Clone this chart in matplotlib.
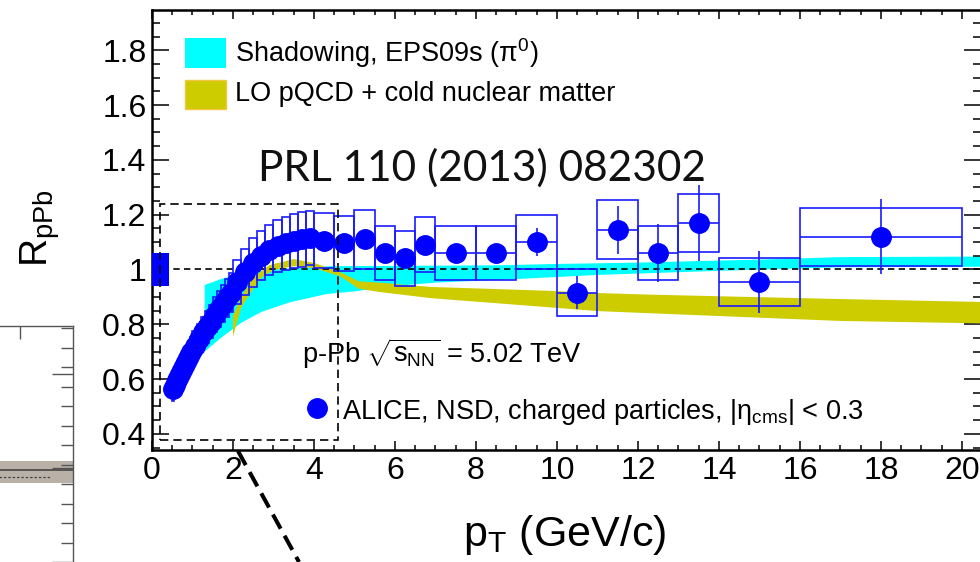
import matplotlib.pyplot as plt
from matplotlib.patches import Rectangle
from matplotlib.lines import Line2D
from matplotlib.ticker import MultipleLocator

plt.rcParams['font.family'] = ['Liberation Sans', 'DejaVu Sans']
plt.rcParams['mathtext.fontset'] = 'custom'
plt.rcParams['mathtext.rm'] = 'Liberation Sans'
plt.rcParams['mathtext.it'] = 'Liberation Sans:italic'
plt.rcParams['mathtext.bf'] = 'Liberation Sans:bold'

# ALICE R_pPb of charged particles: bin edges, values, stat and syst errors
pt_edges = [0.5, 0.55, 0.6, 0.65, 0.7, 0.75, 0.8, 0.85, 0.9, 0.95,
            1.0, 1.1, 1.2, 1.3, 1.4, 1.5, 1.6, 1.7, 1.8, 1.9,
            2.0, 2.2, 2.4, 2.6, 2.8, 3.0, 3.2, 3.4, 3.6, 3.8,
            4.0, 4.5, 5.0, 5.5, 6.0, 6.5, 7.0, 8.0, 9.0, 10.0,
            11.0, 12.0, 13.0, 14.0, 16.0, 20.0]
rppb = [0.565, 0.58, 0.595, 0.61, 0.625, 0.64, 0.655, 0.67, 0.685, 0.70,
        0.72, 0.745, 0.77, 0.79, 0.81, 0.835, 0.855, 0.875, 0.895, 0.915,
        0.955, 0.99, 1.025, 1.05, 1.07, 1.085, 1.095, 1.105, 1.11, 1.115,
        1.105, 1.095, 1.11, 1.06, 1.04, 1.09, 1.06, 1.06, 1.10, 0.915,
        1.145, 1.06, 1.17, 0.955, 1.12]
stat = [0.005, 0.005, 0.005, 0.005, 0.005, 0.005, 0.005, 0.005, 0.005, 0.005,
        0.006, 0.006, 0.006, 0.006, 0.007, 0.007, 0.007, 0.008, 0.008, 0.008,
        0.008, 0.009, 0.010, 0.010, 0.011, 0.012, 0.013, 0.014, 0.015, 0.016,
        0.012, 0.015, 0.018, 0.021, 0.025, 0.028, 0.025, 0.032, 0.05, 0.06,
        0.088, 0.107, 0.14, 0.114, 0.138]
syst = [0.045, 0.045, 0.045, 0.046, 0.047, 0.048, 0.049, 0.05, 0.051, 0.052,
        0.054, 0.056, 0.058, 0.06, 0.062, 0.064, 0.066, 0.068, 0.07, 0.072,
        0.08, 0.084, 0.088, 0.09, 0.092, 0.094, 0.096, 0.098, 0.1, 0.1,
        0.1, 0.1, 0.107, 0.1, 0.1, 0.1, 0.1, 0.1, 0.1, 0.086,
        0.108, 0.097, 0.107, 0.088, 0.106]
norm_unc = 0.06

# Shadowing, EPS09s band
eps_up_x = [1.3, 1.7, 2.2, 3.0, 4.4, 6.0, 8.5, 10.0, 12.0, 15.0, 17.0, 20.6]
eps_up_y = [0.943, 0.965, 0.985, 1.0, 1.012, 1.013, 1.015, 1.02, 1.025, 1.036, 1.045, 1.047]
eps_lo_x = [1.3, 1.7, 2.2, 2.7, 3.4, 4.3, 5.0, 6.0, 7.0, 8.6, 11.0, 14.0, 17.0, 20.6]
eps_lo_y = [0.70, 0.75, 0.805, 0.845, 0.88, 0.91, 0.92, 0.94, 0.952, 0.962, 0.98, 0.995, 1.008, 1.01]

# LO pQCD + cold nuclear matter band
cnm_up_x = [2.0, 2.2, 2.5, 2.9, 3.5, 4.0, 4.65, 5.1, 5.6, 6.9, 8.4, 9.8, 11.0, 12.3, 17.0, 20.6]
cnm_up_y = [0.83, 0.90, 0.97, 1.016, 1.038, 1.024, 0.99, 0.957, 0.952, 0.936, 0.929, 0.922, 0.914, 0.908, 0.892, 0.881]
cnm_lo_x = [2.0, 2.2, 2.5, 2.7, 3.0, 3.5, 4.0, 4.65, 5.1, 5.6, 6.9, 8.4, 9.8, 11.0, 17.0, 20.6]
cnm_lo_y = [0.755, 0.86, 0.93, 0.97, 0.998, 1.012, 1.005, 0.975, 0.93, 0.918, 0.895, 0.878, 0.862, 0.848, 0.812, 0.803]

xticks = [0, 2, 4, 6, 8, 10, 12, 14, 16, 18, 20]
yticks = [0.4, 0.6, 0.8, 1.0, 1.2, 1.4, 1.6, 1.8]
ylabels = ["0.4", "0.6", "0.8", "1", "1.2", "1.4", "1.6", "1.8"]

BLUE = "#0000ff"
BOX = "#1a1aff"
CYAN = "#00ffff"
OLIVE = "#cccc00"

W, H = 980, 562


def main() -> None:
    fig = plt.figure(figsize=(9.8, 5.62), dpi=100)

    # piece of the neighbouring panel on the left
    axl = fig.add_axes([-0.05, 0, 0.05 + 73 / W, (H - 326) / H])
    axl.set_xlim(-49, 73)
    axl.set_ylim(0, 236)
    for s in ["left", "bottom"]:
        axl.spines[s].set_visible(False)
    for s in ["top", "right"]:
        axl.spines[s].set_color("#555555")
        axl.spines[s].set_linewidth(1.0)
    axl.axhspan(79, 101, color="#b9b1a8", lw=0)
    axl.axhline(92, color="#444444", lw=1.2)
    axl.plot([-49, 50], [85, 85], color="#444444", lw=0.9, ls=(0, (2, 1.5)))
    axl.plot([-49, -46], [92, 92], color="#f0a040", lw=2.5)
    axl.yaxis.tick_right()
    axl.yaxis.set_major_locator(MultipleLocator(94))
    axl.yaxis.set_minor_locator(MultipleLocator(19.5))
    axl.tick_params(axis="y", which="major", direction="in", length=15, width=1.0,
                    color="#555555", labelright=False)
    axl.tick_params(axis="y", which="minor", direction="in", length=9, width=1.0,
                    color="#555555")
    axl.set_xticks([20])
    axl.xaxis.tick_top()
    axl.tick_params(axis="x", direction="in", length=9, width=1.0, color="#555555",
                    labeltop=False)

    # main panel
    ax = fig.add_axes([152 / W, (H - 450) / H, (981 - 152) / W, 440 / H])
    ax.set_xlim(0, 20.47)
    ax.set_ylim(0.341, 1.947)

    ax.fill(eps_up_x + eps_lo_x[::-1], eps_up_y + eps_lo_y[::-1],
            color=CYAN, lw=0, zorder=1)
    ax.fill(cnm_up_x + cnm_lo_x[::-1], cnm_up_y + cnm_lo_y[::-1],
            color=OLIVE, lw=0, zorder=2)

    ax.axhline(1.0, color="black", lw=1.2, ls=(0, (3.8, 2.6)), zorder=3)

    # normalisation uncertainty
    ax.add_patch(Rectangle((0, 1 - norm_unc), 0.42, 2 * norm_unc,
                           color=BLUE, lw=0, zorder=4))

    centres = [(pt_edges[i] + pt_edges[i + 1]) / 2 for i in range(len(rppb))]
    halfw = [(pt_edges[i + 1] - pt_edges[i]) / 2 for i in range(len(rppb))]
    for i in range(len(rppb)):
        ax.add_patch(Rectangle((pt_edges[i], rppb[i] - syst[i]),
                               pt_edges[i + 1] - pt_edges[i], 2 * syst[i],
                               fill=False, ec=BOX, lw=1.2, zorder=5))
    ax.errorbar(centres, rppb, yerr=stat, xerr=halfw, fmt="o", ms=14,
                color=BLUE, mec=BLUE, ecolor=BOX, elinewidth=1.2, capsize=0,
                zorder=6)

    # dashed zoom frame
    ax.add_patch(Rectangle((0.2, 0.378), 4.39, 1.24 - 0.378, fill=False,
                           ec="black", lw=1.2, ls=(0, (5, 3)), zorder=7))

    # legend
    ax.add_patch(Rectangle((0.815, 1.735), 1.01, 0.11, color=CYAN, lw=0, zorder=8))
    ax.add_patch(Rectangle((0.815, 1.586), 1.01, 0.106, fc=OLIVE, ec="#f5c542",
                           lw=1.0, zorder=8))
    ax.text(2.05, 1.79, "Shadowing, EPS09s (π$^{0}$)", fontsize=19.5,
            va="center", ha="left", zorder=8)
    ax.text(2.05, 1.64, "LO pQCD + cold nuclear matter", fontsize=19.5,
            va="center", ha="left", zorder=8)

    ax.text(2.62, 1.323, "PRL 110 (2013) 082302", family="Lato", fontsize=30.5,
            va="baseline", ha="left", color="#111111", zorder=8)

    ax.text(3.70, 0.659, "p-Pb $\\sqrt{\\mathrm{s}_{\\mathrm{NN}}}$ = 5.02 TeV",
            fontsize=19.5, va="baseline", ha="left", zorder=8)
    ax.plot([4.07], [0.495], "o", ms=14, color=BLUE, zorder=8)
    ax.text(4.69, 0.455, "ALICE, NSD, charged particles, |η$_{\\mathrm{cms}}$| < 0.3",
            fontsize=19.5, va="baseline", ha="left", zorder=8)

    # axes styling
    for s in ax.spines.values():
        s.set_linewidth(1.8)
    ax.set_xticks(xticks)
    ax.set_xticklabels([str(v) for v in xticks])
    ax.set_yticks(yticks)
    ax.set_yticklabels(ylabels)
    ax.xaxis.set_minor_locator(MultipleLocator(0.5))
    ax.yaxis.set_minor_locator(MultipleLocator(0.05))
    ax.tick_params(axis="x", which="major", direction="in", length=6.5, width=1.1,
                   top=True, labelsize=23, pad=4)
    ax.tick_params(axis="x", which="minor", direction="in", length=3.5, width=1.1,
                   top=True)
    ax.tick_params(axis="y", which="major", direction="in", length=12, width=1.1,
                   right=True, labelsize=23, pad=4)
    ax.tick_params(axis="y", which="minor", direction="in", length=6, width=1.1,
                   right=True)

    fig.text(565 / W, 1 - 546 / H, "p$_{\\mathrm{T}}$ (GeV/c)", fontsize=31,
             ha="center", va="baseline")
    fig.text(40 / W, 1 - 228 / H, "R$_{\\mathrm{pPb}}$", fontsize=28,
             rotation=90, ha="center", va="center")

    # thick dashed connector towards the lower panel
    fig.add_artist(Line2D([238 / W, 299 / W], [1 - 451 / H, 0], color="black",
                          lw=2.9, ls=(0, (4, 2))))

    fig.savefig("out.png", dpi=100)


if __name__ == "__main__":
    main()
